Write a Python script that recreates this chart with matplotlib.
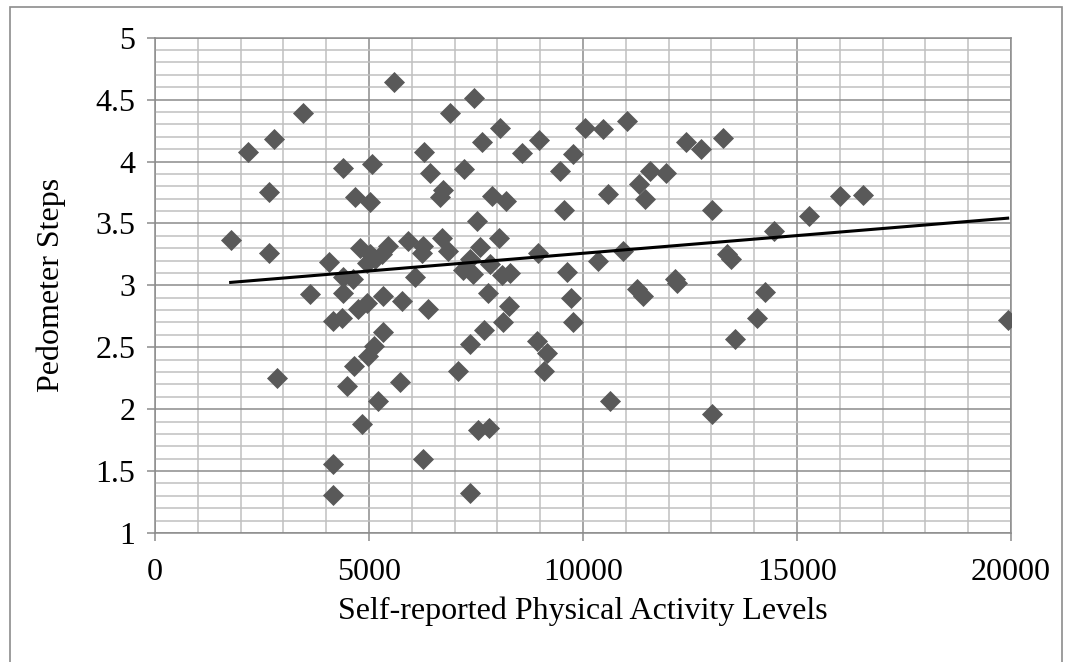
import numpy as np
import matplotlib.pyplot as plt
from matplotlib.ticker import MultipleLocator, FuncFormatter
from matplotlib.patches import Rectangle

# Datos (actividad auto-reportada vs pasos del podómetro)
activity = [1768, 2166, 2656, 2656, 2780, 2850, 3458, 3621, 4057, 4167,
            4167, 4167, 4361, 4385, 4400, 4400, 4478, 4634, 4657, 4673,
            4751, 4790, 4829, 4945, 4945, 4984, 5023, 5023, 5062, 5117,
            5140, 5218, 5296, 5335, 5319, 5451, 5584, 5724, 5764, 5919,
            6075, 6230, 6253, 6269, 6293, 6386, 6425, 6700, 6659, 6737,
            6854, 6900, 7087, 7204, 7220, 7352, 7360, 7360, 7437, 7461,
            7516, 7554, 7600, 7650, 7694, 7788, 7800, 7827, 7870, 8045,
            8061, 8100, 8138, 8200, 8271, 8294, 8575, 8918, 8960, 8968,
            9089, 9150, 9470, 9550, 9618, 9712, 9759, 9774, 10054, 10343,
            10474, 10580, 10631, 10942, 11020, 11254, 11300, 11410, 11460, 11565,
            11950, 12150, 12189, 12407, 12750, 13025, 13025, 13264, 13372, 13450,
            13551, 14058, 14252, 14470, 15288, 16005, 16550, 19922]
steps = [3.37, 4.08, 3.75, 3.26, 4.18, 2.25, 4.39, 2.93, 3.19, 2.71,
         1.56, 1.31, 2.74, 3.95, 3.07, 2.94, 2.19, 3.05, 2.35, 3.71,
         2.81, 3.30, 1.88, 3.18, 2.86, 2.43, 3.67, 3.25, 3.98, 2.51,
         3.21, 2.07, 3.25, 2.91, 2.62, 3.32, 4.64, 2.22, 2.87, 3.36,
         3.07, 3.26, 1.60, 3.32, 4.08, 2.81, 3.91, 3.38, 3.71, 3.77,
         3.28, 4.39, 2.31, 3.12, 3.94, 2.53, 3.21, 1.32, 3.09, 4.51,
         3.52, 1.83, 3.31, 4.16, 2.64, 2.94, 1.85, 3.17, 3.72, 3.38,
         4.27, 3.08, 2.70, 3.68, 2.83, 3.10, 4.07, 2.55, 3.26, 4.17,
         2.31, 2.45, 3.92, 3.61, 3.11, 2.90, 4.06, 2.70, 4.27, 3.20,
         4.26, 3.74, 2.07, 3.28, 4.33, 2.97, 3.82, 2.91, 3.70, 3.92,
         3.91, 3.05, 3.02, 4.16, 4.10, 3.61, 1.96, 4.19, 3.25, 3.21,
         2.57, 2.74, 2.95, 3.44, 3.56, 3.72, 3.73, 2.72]

plt.rcParams['font.family'] = ['Liberation Serif', 'DejaVu Serif']

fig = plt.figure(figsize=(10.7, 6.62), dpi=100)
ax = fig.add_axes([155/1070, 1 - 533/662, 856/1070, (533 - 37.7)/662])

# marco exterior del gráfico
fig.patches.append(Rectangle((10/1070, -0.1), 1052/1070, 1.1 - 7/662,
                             transform=fig.transFigure, fill=False,
                             edgecolor='#8c8c8c', linewidth=1.2))

ax.set_xlim(0, 20000)
ax.set_ylim(1, 5)
ax.xaxis.set_major_locator(MultipleLocator(5000))
ax.xaxis.set_minor_locator(MultipleLocator(1000))
ax.yaxis.set_major_locator(MultipleLocator(0.5))
ax.yaxis.set_minor_locator(MultipleLocator(0.1))
ax.yaxis.set_major_formatter(FuncFormatter(lambda v, p: '%g' % v))

ax.grid(which='minor', color='#c0c0c0', linewidth=1.1)
ax.grid(which='major', color='#8c8c8c', linewidth=1.1)
ax.set_axisbelow(True)
for s in ax.spines.values():
    s.set_color('#8c8c8c')
    s.set_linewidth(1.1)
ax.tick_params(which='major', length=6, width=1.1, color='#8c8c8c',
               labelsize=23)
ax.tick_params(axis='x', pad=12)
ax.tick_params(axis='y', pad=8)
ax.tick_params(which='minor', length=0)

ax.scatter(activity, steps, marker='D', s=115, color='#595959', zorder=3,
           linewidths=0)

# línea de tendencia lineal
coef = np.polyfit(activity, steps, 1)
xl = np.array([min(activity), max(activity)])
ax.plot(xl, np.polyval(coef, xl), color='black', linewidth=2.2, zorder=4)

ax.set_xlabel('Self-reported Physical Activity Levels', fontsize=23)
ax.set_ylabel('Pedometer Steps', fontsize=23)
ax.xaxis.set_label_coords(0.5, (533 - 596) / 495.3)
ax.yaxis.set_label_coords((66 - 155) / 856, 0.5)

fig.savefig('out.png', dpi=100)
